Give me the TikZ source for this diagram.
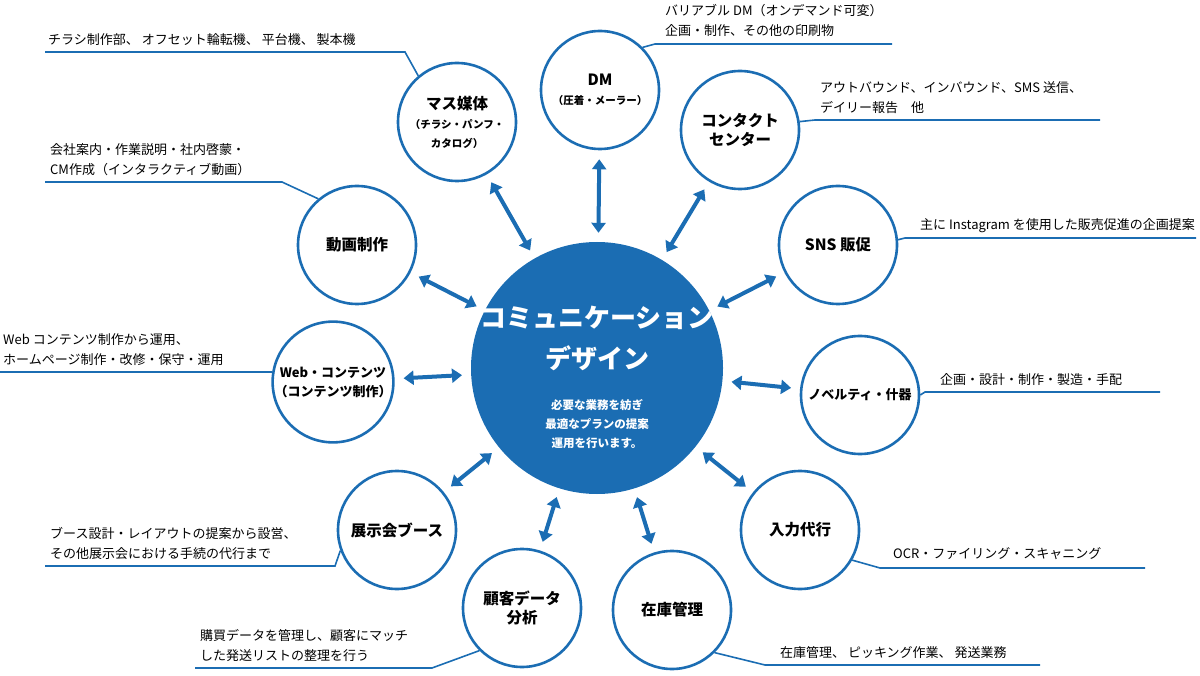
\documentclass[tikz,border=0pt]{standalone}
\usepackage{fontspec}
\setmainfont{Noto Sans CJK JP}
\usetikzlibrary{arrows.meta}
\definecolor{bl}{HTML}{1B6DB3}
\tikzset{
 sat/.style={circle,draw=bl,line width=2.6pt,fill=white,minimum size=118pt,inner sep=0pt,align=center,font=\fontsize{15.5}{19}\selectfont\bfseries},
 arr/.style={draw=bl,line width=4pt,{Triangle[length=10pt,width=14pt]}-{Triangle[length=10pt,width=14pt]},shorten <=9pt,shorten >=9pt},
 lead/.style={draw=bl,line width=1.6pt},
 lab/.style={anchor=south west,align=left,inner sep=0pt,font=\fontsize{13}{20}\selectfont}
}
\newcommand{\smf}{\fontsize{10.5}{15}\selectfont}
\newcommand{\mdf}{\fontsize{13}{19}\selectfont}
\begin{document}
\begin{tikzpicture}[x=1pt,y=-1pt]
\useasboundingbox (0,0) rectangle (1200,676);
\node[circle,fill=bl,minimum size=252pt,inner sep=0pt] (c) at (597,368) {};
\node[white,font=\fontsize{26}{28}\selectfont\bfseries] (t1) at (597,318) {コミュニケーション};
\node[white,font=\fontsize{26}{28}\selectfont\bfseries] (t2) at (597,358) {デザイン};
\node[white,align=center,font=\fontsize{11.5}{19}\selectfont\bfseries] (t3) at (597,424) {必要な業務を紡ぎ\\最適なプランの提案\\運用を行います。};

\node[sat] (dm) at (600,90) {DM\\\smf（圧着・メーラー）};
\node[sat] (ms) at (457,122) {マス媒体\\\smf（チラシ・パンフ・\\\smf カタログ）};
\node[sat] (cc) at (740,130) {コンタクト\\センター};
\node[sat] (sns) at (838,245) {SNS 販促};
\node[sat] (dg) at (357,245) {動画制作};
\node[sat] (web) at (333,382) {\mdf Web・コンテンツ\\\mdf（コンテンツ制作）};
\node[sat] (nv) at (860,395) {\mdf ノベルティ・什器};
\node[sat] (tj) at (397,530) {展示会ブース};
\node[sat] (ny) at (800,530) {入力代行};
\node[sat] (kd) at (522,608) {顧客データ\\分析};
\node[sat] (zk) at (672,610) {在庫管理};

\foreach \s in {dm,ms,cc,sns,dg,web,nv,tj,ny,kd,zk} \draw[arr] (c) -- (\s);

\node[lab] (l1) at (48,46) {チラシ制作部、 オフセット輪転機、 平台機、 製本機};
\draw[lead] (45,52) -- (405,52) -- (ms.130);
\node[lab] (l2) at (665,37) {バリアブル DM（オンデマンド可変）\\企画・制作、その他の印刷物};
\draw[lead] (dm.45) -- (655,44) -- (892,44);
\node[lab] (l3) at (820,114) {アウトバウンド、インバウンド、SMS 送信、\\デイリー報告　他};
\draw[lead] (cc.8) -- (815,120) -- (1100,120);
\node[lab] (l4) at (920,233) {主に Instagram を使用した販売促進の企画提案};
\draw[lead] (sns.5) -- (905,238) -- (1196,238);
\node[lab] (l5) at (50,176) {会社案内・作業説明・社内啓蒙・\\CM作成（インタラクティブ動画）};
\draw[lead] (45,182) -- (282,182) -- (dg.130);
\node[lab] (l6) at (3,366) {Web コンテンツ制作から運用、\\ホームページ制作・改修・保守・運用};
\draw[lead] (0,372) -- (272,372);
\node[lab] (l7) at (940,386) {企画・設計・制作・製造・手配};
\draw[lead] (nv.east) -- (925,392) -- (1160,392);
\node[lab] (l8) at (50,560) {ブース設計・レイアウトの提案から設営、\\その他展示会における手続の代行まで};
\draw[lead] (45,566) -- (335,566) -- (tj.200);
\node[lab] (l9) at (893,560) {OCR・ファイリング・スキャニング};
\draw[lead] (ny.330) -- (880,568) -- (1145,568);
\node[lab] (l10) at (200,662) {購買データを管理し、顧客にマッチ\\した発送リストの整理を行う};
\draw[lead] (195,668) -- (432,668) -- (kd.225);
\node[lab] (l11) at (780,659) {在庫管理、 ピッキング作業、 発送業務};
\draw[lead] (zk.315) -- (765,665) -- (1040,665);
\end{tikzpicture}
\end{document}
